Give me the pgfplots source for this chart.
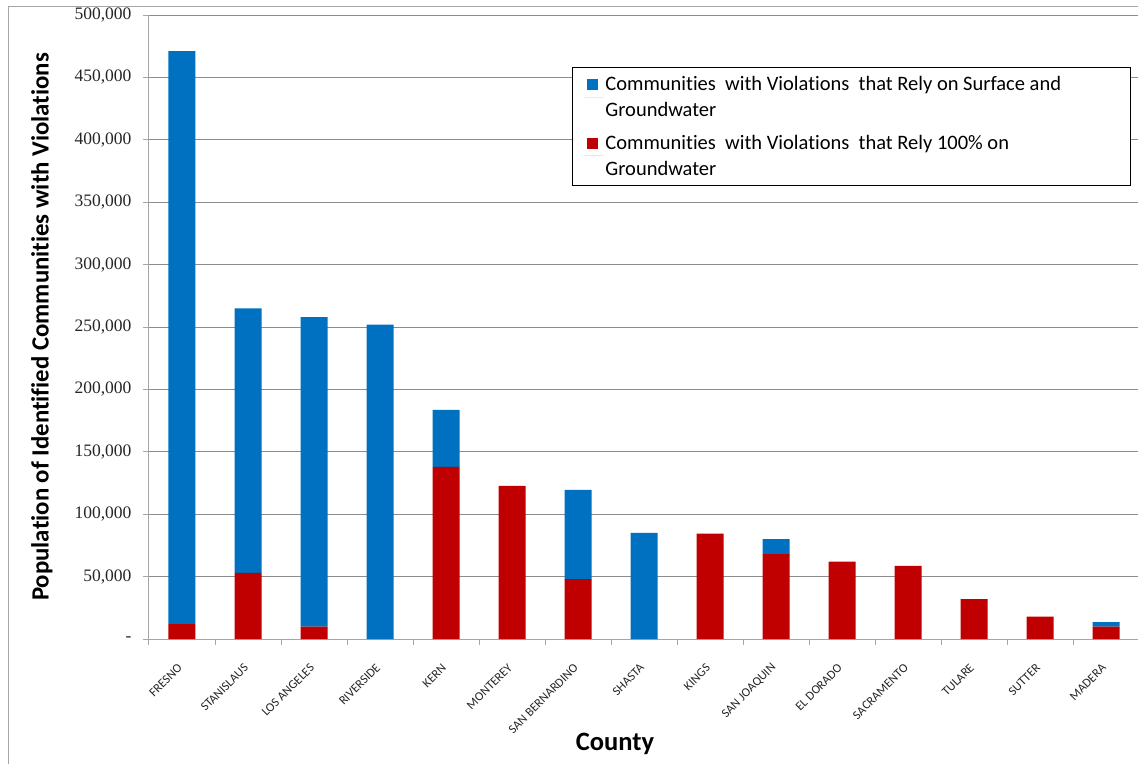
\documentclass[border=0pt]{standalone}
\usepackage{pgfplots}
\pgfplotsset{compat=1.18}
\usepackage{fontspec}
\setmainfont{Carlito}[Ligatures={NoCommon,NoRare,NoDiscretionary}]
\newfontfamily\serifticks{Liberation Serif}
\definecolor{cblue}{HTML}{0070C0}
\definecolor{cred}{HTML}{C00000}
\definecolor{gridgray}{HTML}{8C8C8C}
\definecolor{axisgray}{HTML}{A6A6A6}
\begin{document}
\begin{tikzpicture}[x=1pt,y=1pt]
\useasboundingbox (0,0) rectangle (1138,764);
\draw[axisgray, line width=1pt] (8,0) -- (8,757) -- (1138,757);
\begin{axis}[
  at={(149pt,125pt)}, anchor=south west,
  scale only axis, width=990pt, height=624pt,
  ybar stacked, bar width=27pt,
  xmin=-0.5, xmax=14.5, ymin=0, ymax=500000,
  axis x line*=bottom, axis y line*=left,
  axis line style={axisgray, line width=1pt, -},
  xtick={0,...,14},
  xticklabels={FRESNO,STANISLAUS,LOS ANGELES,RIVERSIDE,KERN,MONTEREY,SAN BERNARDINO,SHASTA,KINGS,SAN JOAQUIN,EL DORADO,SACRAMENTO,TULARE,SUTTER,MADERA},
  minor xtick={-0.5,0.5,...,14.5},
  major x tick style={draw=none},
  minor x tick style={axisgray, line width=1pt},
  minor tick length=6pt,
  ytick={0,50000,...,500000},
  yticklabels={{-\hspace{8pt}},{50,000},{100,000},{150,000},{200,000},{250,000},{300,000},{350,000},{400,000},{450,000},{500,000}},
  scaled y ticks=false,
  major y tick style={axisgray, line width=1pt},
  major tick length=6pt,
  tick align=outside,
  ymajorgrids, grid style={gridgray, line width=0.8pt},
  /pgf/number format/assume math mode=true,
  yticklabel style={font=\serifticks\fontsize{17.5}{19}\selectfont, text=black!85, xshift=-8pt},
  xticklabel style={xshift=0.5pt, yshift=-18.5pt, rotate=45, anchor=east, font=\fontsize{12.5}{14}\selectfont, text=black!85},
  ylabel={Population of Identified Communities with Violations},
  ylabel style={at={(axis description cs:-0.1081,0.5)}, anchor=center, font=\fontsize{24.8}{28}\selectfont\bfseries},
  xlabel={County},
  xlabel style={at={(axis description cs:0.4707,-0.168)}, anchor=center, font=\fontsize{26.5}{28}\selectfont\bfseries},
  legend style={at={(axis description cs:0.4273,0.9167)}, anchor=north west, draw=black, line width=0.8pt, fill=white,
    font=\fontsize{20.5}{26}\selectfont, cells={anchor=west, align=left}, inner xsep=12pt, inner ysep=7pt, row sep=13pt},
  legend image code/.code={\fill[#1] (3pt,7pt) rectangle (14pt,18pt); \path (0pt,0pt) -- (19pt,0pt);},
  reverse legend,
]
\addplot[fill=cred, draw=none] coordinates {
(0,12000) (1,53000) (2,10000) (3,0) (4,138000) (5,122600) (6,48000) (7,0)
(8,84500) (9,68000) (10,62000) (11,58500) (12,32000) (13,18000) (14,10000)};
\addlegendentry{Communities \ with Violations \ that Rely 100\% on\\Groundwater}
\addplot[fill=cblue, draw=none] coordinates {
(0,459000) (1,212000) (2,248000) (3,252000) (4,45500) (5,0) (6,71400) (7,85000)
(8,0) (9,12000) (10,0) (11,0) (12,0) (13,0) (14,3500)};
\addlegendentry{Communities \ with Violations \ that Rely on Surface and\hspace*{55pt}\\Groundwater}
\end{axis}
\end{tikzpicture}
\end{document}
